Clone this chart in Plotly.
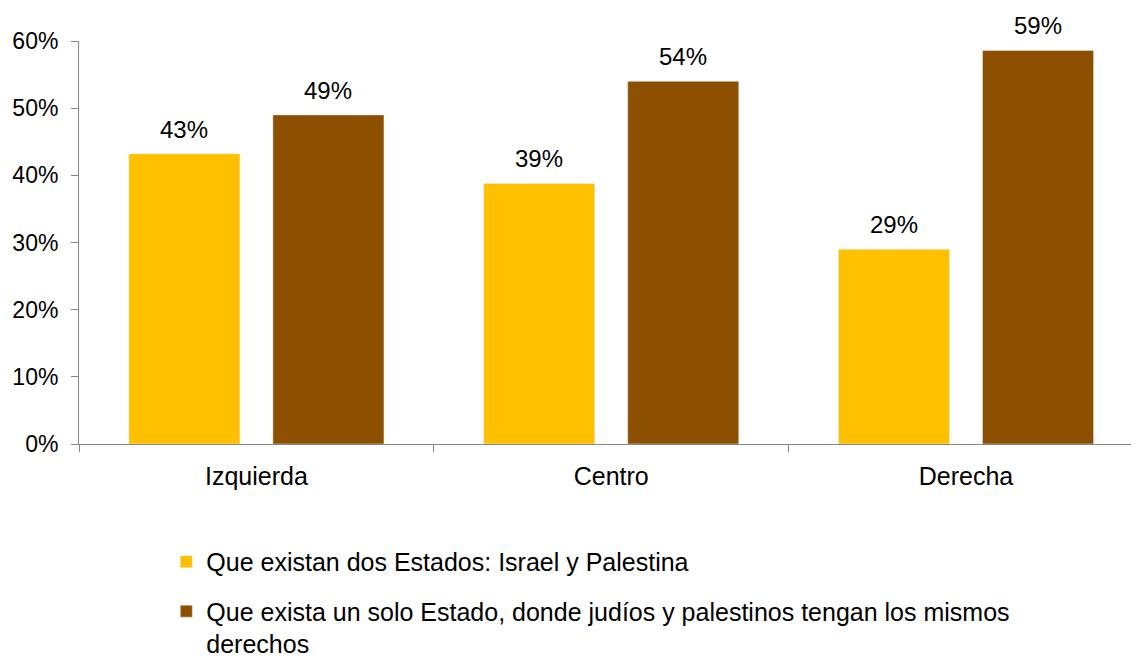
import plotly.graph_objects as go

categories = ["Izquierda", "Centro", "Derecha"]
dos_estados = [43.2, 38.8, 29.0]
un_estado = [49.0, 54.0, 58.6]
labels_dos = ["43%", "39%", "29%"]
labels_uno = ["49%", "54%", "59%"]
y_ticks = [0, 10, 20, 30, 40, 50, 60]
y_tick_labels = ["0%", "10%", "20%", "30%", "40%", "50%", "60%"]
series_names = [
    "Que existan dos Estados: Israel y Palestina",
    "Que exista un solo Estado, donde judíos y palestinos tengan los mismos<br>derechos",
]

font_family = "Liberation Sans, Arial, sans-serif"

fig = go.Figure()
fig.add_trace(go.Bar(
    x=categories, y=dos_estados, name=series_names[0],
    marker=dict(color="#FFC000"), legendgroup="a",
))
fig.add_trace(go.Bar(
    x=categories, y=un_estado, name=series_names[1],
    marker=dict(color="#8C5000"), legendgroup="b",
))

# data labels above each bar (half a group slot left / right of the category)
for values, labels, shift in [(dos_estados, labels_dos, -72), (un_estado, labels_uno, 72)]:
    for cat, v, lab in zip(categories, values, labels):
        fig.add_annotation(
            x=cat, y=v, text=lab, showarrow=False,
            xanchor="center", yanchor="bottom", xshift=shift, yshift=9,
            font=dict(size=24, color="black", family=font_family),
        )

fig.update_layout(
    width=1131, height=657,
    paper_bgcolor="white", plot_bgcolor="white",
    margin=dict(l=79, r=0, t=41, b=213, autoexpand=False),
    barmode="group", bargap=0.188, bargroupgap=0.229,
    font=dict(family=font_family, size=24, color="black"),
    showlegend=True,
    legend=dict(
        x=0.083, y=-0.2355, xanchor="left", yanchor="top",
        orientation="v", traceorder="grouped", tracegroupgap=14,
        font=dict(size=25, color="black", family=font_family),
        itemwidth=30, valign="top",
    ),
)
fig.update_xaxes(
    range=[-0.5, 2.465], automargin=False,
    showline=True, linecolor="#868686", linewidth=1,
    ticks="outside", tickson="boundaries", ticklen=7, tickcolor="#868686",
    tickfont=dict(size=25, color="black"), ticklabelstandoff=10,
    showgrid=False, zeroline=False,
)
fig.update_yaxes(
    range=[0, 60], automargin=False,
    tickvals=y_ticks, ticktext=y_tick_labels,
    showline=True, linecolor="#868686", linewidth=1,
    ticks="outside", ticklen=7, tickcolor="#868686",
    tickfont=dict(size=23, color="black"), ticklabelstandoff=8,
    showgrid=False, zeroline=False,
)

fig.write_html(
    "out.html",
    config={"displayModeBar": False},
    post_script="document.body.style.margin='0';",
)
